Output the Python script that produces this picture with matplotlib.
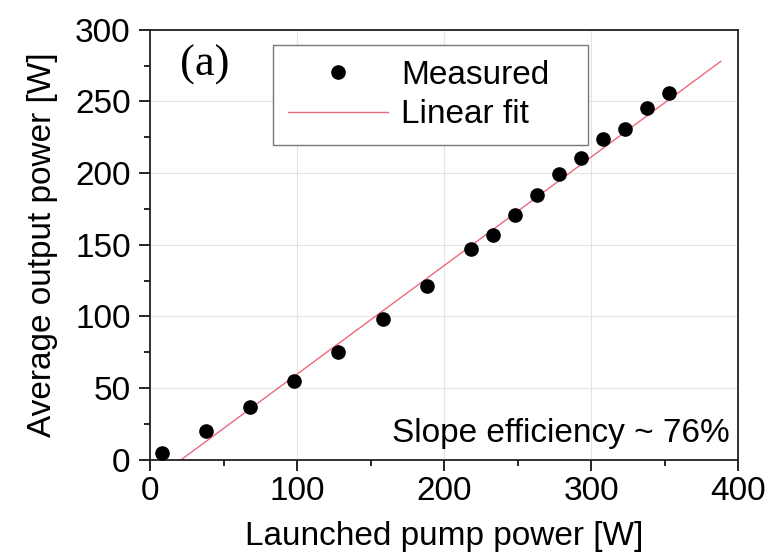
import matplotlib.pyplot as plt
from matplotlib.ticker import MultipleLocator

plt.rcParams['font.family'] = ['Liberation Sans', 'DejaVu Sans']

# measured points
pump = [8, 38, 68, 98, 128, 158, 188, 218, 233, 248, 263, 278, 293, 308, 323, 338, 353]
output = [5, 20, 37, 55, 75, 98, 121, 147, 157, 171, 185, 199.5, 210.5, 224, 230.5, 245.5, 256]

# linear fit end points
fit_x = [21, 388]
fit_y = [0, 278]

fig = plt.figure(figsize=(7.7, 5.52), dpi=100)
ax = fig.add_axes([0.195, 0.167, 0.764, 0.779])

ax.grid(True, color='#e4e4e4', linewidth=0.8)
ax.set_axisbelow(True)

ax.plot(pump, output, 'o', color='black', markersize=9.5, label='Measured', zorder=3)
ax.plot(fit_x, fit_y, color='#ec6a7c', linewidth=1.0, label='Linear fit', zorder=2)

ax.set_xlim(0, 400)
ax.set_ylim(0, 300)
ax.xaxis.set_major_locator(MultipleLocator(100))
ax.xaxis.set_minor_locator(MultipleLocator(50))
ax.yaxis.set_major_locator(MultipleLocator(50))
ax.yaxis.set_minor_locator(MultipleLocator(25))
ax.tick_params(which='both', direction='out', labelsize=24, width=1.2)
ax.tick_params(axis='x', pad=4)
ax.tick_params(axis='y', pad=6)
ax.tick_params(which='major', length=8)
ax.tick_params(which='minor', length=4)
for s in ax.spines.values():
    s.set_linewidth(1.3)
    s.set_color('#222222')

ax.set_xlabel('Launched pump power [W]', fontsize=24, labelpad=10)
ax.set_ylabel('Average output power [W]', fontsize=24, labelpad=12)

ax.text(0.05, 0.965, '(a)', transform=ax.transAxes, fontsize=32,
        family=['Liberation Serif'], va='top', ha='left')
ax.text(0.985, 0.025, 'Slope efficiency ~ 76%', transform=ax.transAxes,
        fontsize=24, ha='right', va='bottom')

leg = ax.legend(loc='lower left', bbox_to_anchor=(0.209, 0.731, 0.535, 0.246),
                mode='expand', fontsize=24,
                fancybox=False, edgecolor='#777777', framealpha=1,
                handlelength=3.0, borderpad=0.45, labelspacing=0.25,
                borderaxespad=0, handletextpad=0.4)
leg.get_frame().set_linewidth(1.0)

fig.savefig('out.png', dpi=100)
